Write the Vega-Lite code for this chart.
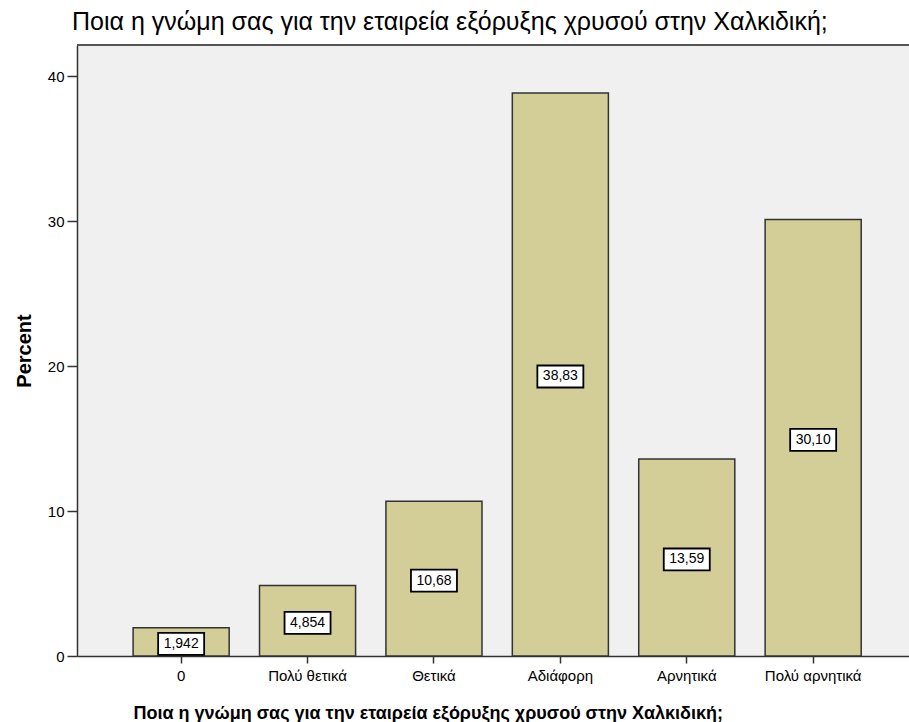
{
  "$schema": "https://vega.github.io/schema/vega-lite/v6.json",
  "width": 832,
  "height": 611,
  "autosize": {"type": "none"},
  "padding": {"left": 77, "top": 45, "right": 0, "bottom": 66},
  "background": "white",
  "config": {
    "locale": {"number": {"decimal": ",", "thousands": ".", "grouping": [3], "currency": ["", " €"]}},
    "view": {"fill": "#F0F0F0", "stroke": null},
    "font": "Liberation Sans"
  },
  "title": {
    "text": "Ποια η γνώμη σας για την εταιρεία εξόρυξης χρυσού στην Χαλκιδική;",
    "anchor": "start",
    "frame": "group",
    "fontSize": 25,
    "fontWeight": "normal",
    "font": "Liberation Sans",
    "color": "black",
    "baseline": "alphabetic",
    "offset": 13,
    "dx": -5,
    "dy": 24
  },
  "data": {
    "values": [
      {"category": "0", "percent": 1.942},
      {"category": "Πολύ θετικά", "percent": 4.854},
      {"category": "Θετικά", "percent": 10.68},
      {"category": "Αδιάφορη", "percent": 38.83},
      {"category": "Αρνητικά", "percent": 13.59},
      {"category": "Πολύ αρνητικά", "percent": 30.10}
    ]
  },
  "layer": [
    {
      "mark": {"type": "bar", "fill": "#D3CE97", "stroke": "#333333", "strokeWidth": 1.5},
      "encoding": {
        "x": {
          "field": "category", "type": "nominal", "sort": null,
          "scale": {"paddingInner": 0.24, "paddingOuter": 0.411, "align": 0.54},
          "axis": {
            "title": "Ποια η γνώμη σας για την εταιρεία εξόρυξης χρυσού στην Χαλκιδική;",
            "labelAngle": 0, "labelFontSize": 15, "labelColor": "black", "labelFont": "Liberation Sans",
            "labelPadding": 5,
            "tickSize": 7, "tickColor": "#333333", "tickWidth": 1.5,
            "domainColor": "#333333", "domainWidth": 1.5,
            "titleFontSize": 18, "titleFontWeight": "bold", "titleColor": "black", "titleFont": "Liberation Sans",
            "titleX": 56, "titleY": 62, "titleAlign": "left", "titleBaseline": "alphabetic",
            "grid": false
          }
        },
        "y": {
          "field": "percent", "type": "quantitative",
          "scale": {"domain": [0, 42.14], "nice": false},
          "axis": {
            "title": "Percent", "values": [0, 10, 20, 30, 40],
            "tickSize": 10, "labelPadding": 3, "labelFontSize": 15, "labelColor": "black", "labelFont": "Liberation Sans",
            "tickColor": "#333333", "tickWidth": 1.5,
            "domainColor": "#333333", "domainWidth": 1.5,
            "titleFontSize": 20, "titleFontWeight": "bold", "titleColor": "black", "titleFont": "Liberation Sans",
            "titleX": -47, "titleY": 305.5, "titleAngle": -90, "titleAlign": "center", "titleBaseline": "alphabetic",
            "grid": false
          }
        }
      }
    },
    {
      "data": {"values": [{}]},
      "mark": {"type": "rule", "color": "#555555", "strokeWidth": 2},
      "encoding": {"y": {"datum": 42.14, "type": "quantitative"}}
    },
    {
      "transform": [{"calculate": "datum.percent / 2", "as": "mid"}],
      "mark": {"type": "point", "shape": "M-1,-0.478H1V0.478H-1Z", "size": 2116, "filled": true, "fill": "white", "stroke": "black", "strokeWidth": 1.8, "opacity": 1, "yOffset": 2},
      "encoding": {
        "x": {"field": "category", "type": "nominal", "sort": null},
        "y": {"field": "mid", "type": "quantitative"}
      }
    },
    {
      "transform": [{"calculate": "datum.percent / 2", "as": "mid"}],
      "mark": {"type": "text", "fontSize": 14, "font": "Liberation Sans", "color": "black", "baseline": "middle", "yOffset": 2},
      "encoding": {
        "x": {"field": "category", "type": "nominal", "sort": null},
        "y": {"field": "mid", "type": "quantitative"},
        "text": {"field": "percent", "type": "quantitative", "format": ".4r"}
      }
    }
  ]
}
